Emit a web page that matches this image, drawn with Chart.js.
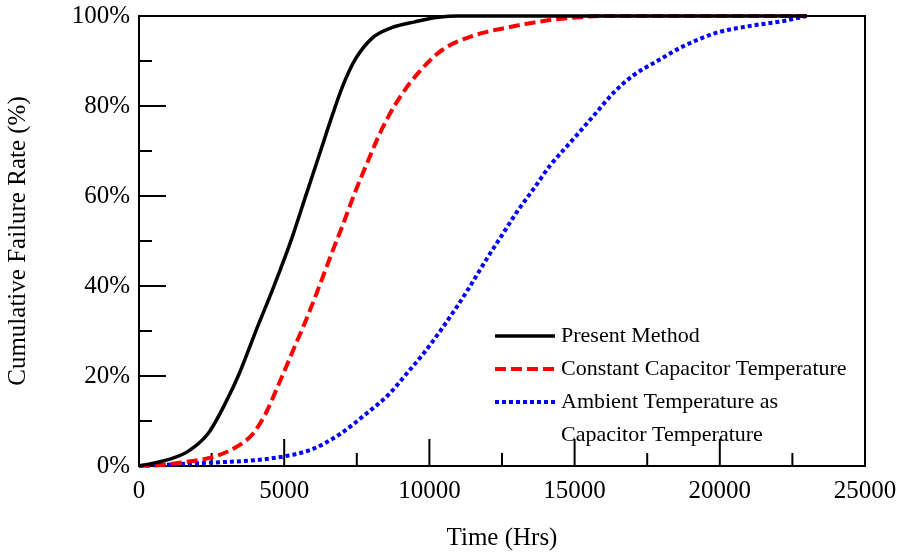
<!DOCTYPE html>
<html>
<head>
<meta charset="utf-8">
<script src="https://cdn.jsdelivr.net/npm/chart.js@4.4.1/dist/chart.umd.min.js"></script>
<style>
  html, body { margin: 0; padding: 0; background: #fff; }
  canvas { display: block; }
</style>
</head>
<body>
<canvas id="chart" width="904" height="555"></canvas>
<script>
// time in hours, cumulative failure rate in %
const presentTime = [0, 1000, 1700, 2400, 3000, 3450, 4000, 4600, 5050, 5300, 5750, 6200, 6650, 7000, 7450, 8050, 8700, 9500, 10300, 11000, 23000];
const presentRate = [0, 1.4, 3.3, 7.4, 14.3, 20.5, 29.6, 39.2, 46.8, 51.3, 60.2, 69, 77.8, 84.2, 90.4, 95.2, 97.4, 98.7, 99.7, 100, 100];

const constantTime = [0, 1000, 1700, 2500, 3200, 3900, 4350, 4800, 5300, 5750, 6200, 6650, 7000, 7450, 7900, 8250, 8600, 9050, 9650, 10450, 11500, 12650, 14150, 15300, 16000, 23000];
const constantRate = [0, 0.4, 1, 1.9, 3.7, 7, 11.5, 18, 25.6, 32.4, 39.8, 47.5, 53.3, 61, 68, 73.3, 77.8, 82.6, 87.6, 92.5, 95.6, 97.4, 99.1, 99.8, 100, 100];

const ambientTime = [0, 2300, 4000, 5050, 5950, 6900, 7800, 8600, 9200, 9750, 10450, 11300, 12000, 12450, 13000, 13600, 14150, 14950, 15650, 16350, 17000, 17900, 18750, 19900, 21050, 22200, 23000];
const ambientRate = [0, 0.7, 1.3, 2.2, 3.7, 7, 11.5, 15.9, 20.4, 24.6, 30.7, 38.9, 46.3, 50.8, 56.3, 61.7, 66.7, 72.6, 77.8, 83, 86.7, 90.2, 93.3, 96.3, 97.8, 98.9, 100];

const seriesNames = ["Present Method", "Constant Capacitor Temperature", ["Ambient Temperature as", "Capacitor Temperature"]];
const xTitle = "Time (Hrs)";
const yTitle = "Cumulative Failure Rate (%)";

const serif = "'Liberation Serif', 'Times New Roman', serif";

function toPoints(xs, ys) {
    return xs.map((x, i) => ({ x: x, y: ys[i] }));
}

// inward tick marks + frame around the plot
const frameTicks = {
    id: 'frameTicks',
    beforeDatasetsDraw(chart) {
        const { ctx, chartArea: a, scales: { x, y } } = chart;
        ctx.save();
        ctx.strokeStyle = '#000';
        ctx.lineWidth = 2;
        ctx.strokeRect(a.left, a.top, a.right - a.left, a.bottom - a.top);

        ctx.beginPath();
        for (let v = 0; v <= 25000; v += 2500) {
            const px = x.getPixelForValue(v);
            const len = v % 5000 === 0 ? 27 : 13;
            ctx.moveTo(px, a.bottom);
            ctx.lineTo(px, a.bottom - len);
        }
        for (let v = 0; v <= 100; v += 10) {
            const py = y.getPixelForValue(v);
            const len = v % 20 === 0 ? 27 : 13;
            ctx.moveTo(a.left, py);
            ctx.lineTo(a.left + len, py);
        }
        ctx.stroke();
        ctx.restore();
    }
};

// legend inside the plot, lower right
const innerLegend = {
    id: 'innerLegend',
    afterDatasetsDraw(chart) {
        const { ctx, chartArea: a } = chart;
        const x0 = a.left + 356;
        const y0 = a.top + 320;
        const rowH = 33;
        ctx.save();
        ctx.font = '22px ' + serif;
        ctx.textBaseline = 'middle';
        ctx.fillStyle = '#000';
        let row = 0;
        chart.data.datasets.forEach(ds => {
            const yy = y0 + row * rowH;
            ctx.strokeStyle = ds.borderColor;
            ctx.lineWidth = ds.borderWidth;
            ctx.setLineDash(ds.borderDash || []);
            ctx.beginPath();
            ctx.moveTo(x0, yy);
            ctx.lineTo(x0 + 60, yy);
            ctx.stroke();
            const lines = Array.isArray(ds.label) ? ds.label : [ds.label];
            lines.forEach(t => {
                ctx.fillText(t, x0 + 66, y0 + row * rowH);
                row++;
            });
        });
        ctx.restore();
    }
};

new Chart(document.getElementById('chart'), {
    type: 'line',
    data: {
        datasets: [
            {
                label: seriesNames[0],
                data: toPoints(presentTime, presentRate),
                borderColor: '#000000',
                borderWidth: 3.5,
                pointRadius: 0,
                cubicInterpolationMode: 'monotone',
                clip: false
            },
            {
                label: seriesNames[1],
                data: toPoints(constantTime, constantRate),
                borderColor: '#ff0000',
                borderWidth: 4,
                borderDash: [11, 5],
                pointRadius: 0,
                cubicInterpolationMode: 'monotone',
                clip: false
            },
            {
                label: seriesNames[2],
                data: toPoints(ambientTime, ambientRate),
                borderColor: '#0000ff',
                borderWidth: 4,
                borderDash: [4, 3],
                pointRadius: 0,
                cubicInterpolationMode: 'monotone',
                clip: false
            }
        ]
    },
    options: {
        responsive: false,
        animation: false,
        devicePixelRatio: 1,
        layout: { padding: { left: 0, right: 39, top: 16, bottom: 0 } },
        plugins: {
            legend: { display: false },
            tooltip: { enabled: false }
        },
        scales: {
            x: {
                type: 'linear',
                min: 0,
                max: 25000,
                grid: { display: false, drawTicks: false },
                border: { display: false },
                ticks: {
                    stepSize: 5000,
                    padding: 10,
                    color: '#000',
                    maxRotation: 0,
                    font: { family: serif, size: 25 },
                    callback: v => String(v)
                },
                title: {
                    display: true,
                    text: xTitle,
                    color: '#000',
                    font: { family: serif, size: 25 },
                    padding: { top: 0, bottom: 2 }
                },
                afterFit: s => {
                    s.height = 89;
                    s.paddingLeft = 0;
                    s.paddingRight = 0;
                }
            },
            y: {
                min: 0,
                max: 100,
                grid: { display: false, drawTicks: false },
                border: { display: false },
                ticks: {
                    stepSize: 20,
                    padding: 9,
                    color: '#000',
                    font: { family: serif, size: 25 },
                    callback: v => v + '%'
                },
                title: {
                    display: true,
                    text: yTitle,
                    color: '#000',
                    font: { family: serif, size: 25 },
                    padding: { top: 3, bottom: 0 }
                },
                afterFit: s => {
                    s.width = 139;
                    s.paddingTop = 0;
                    s.paddingBottom = 0;
                }
            }
        }
    },
    plugins: [frameTicks, innerLegend]
});
</script>
</body>
</html>
